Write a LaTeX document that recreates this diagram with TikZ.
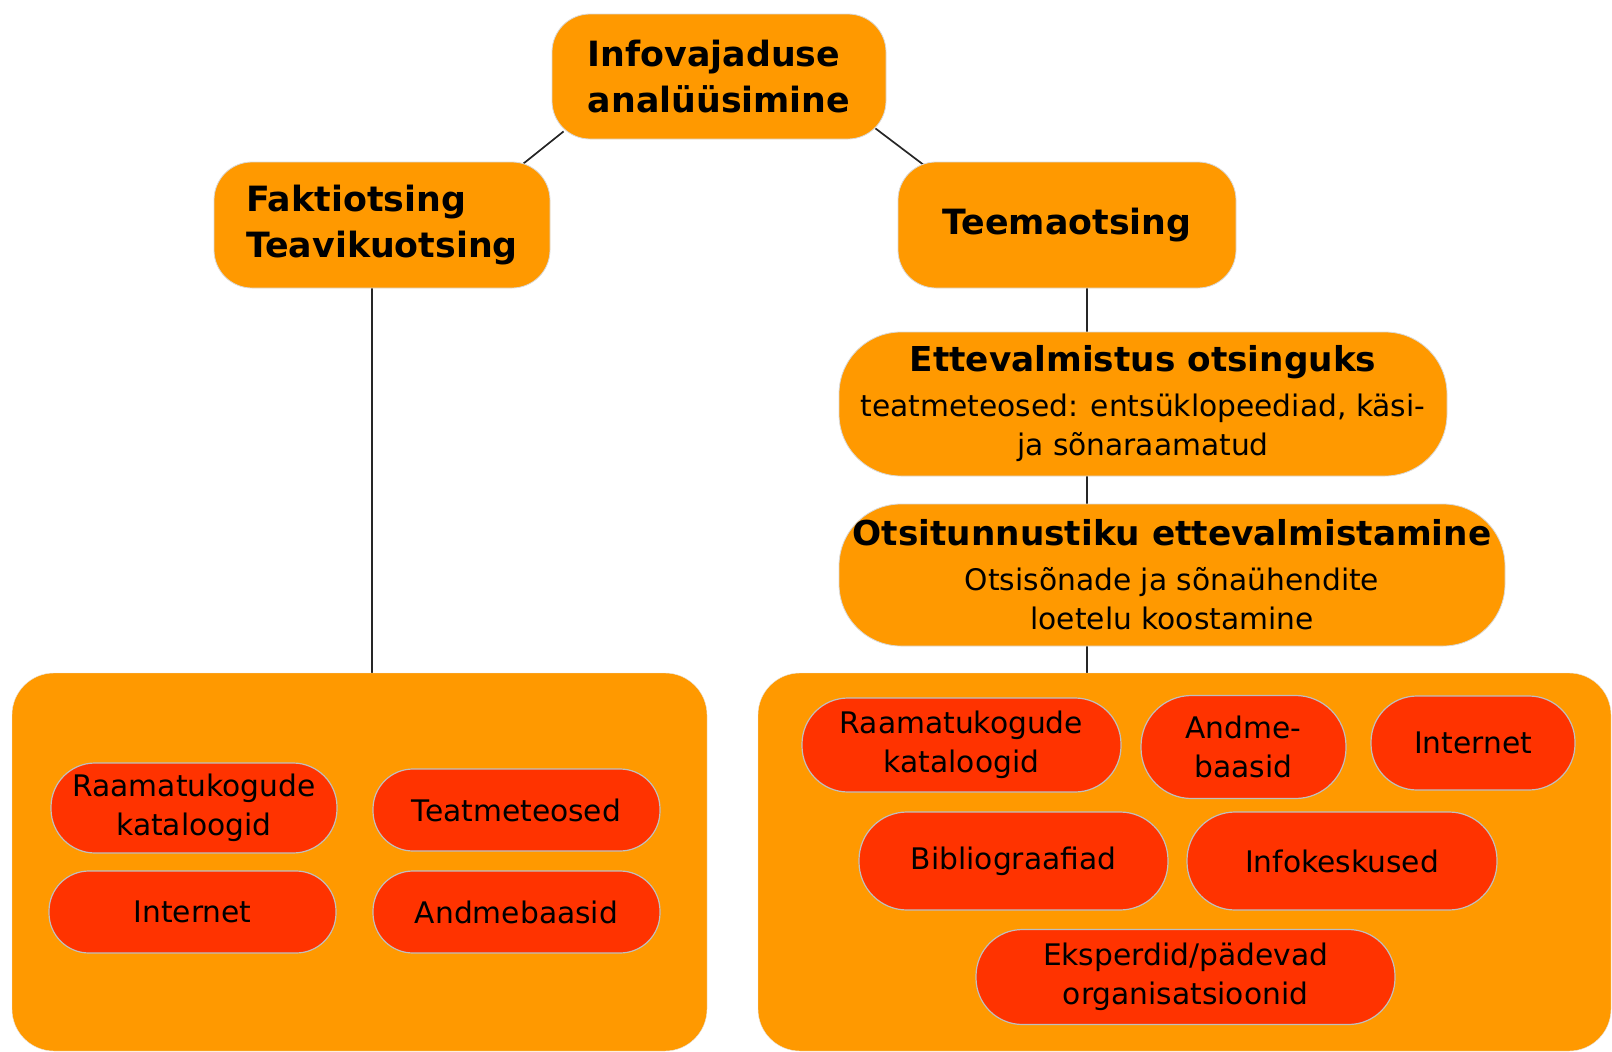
\documentclass[tikz,border=0pt]{standalone}
\usepackage{fontspec}
\setmainfont{DejaVu Sans}
\usepackage{tikz}
\usetikzlibrary{positioning, backgrounds}
\definecolor{boxorange}{HTML}{FF9900}
\definecolor{pillred}{HTML}{FF3300}

\begin{document}
\begin{tikzpicture}[x=1pt, y=-1pt,
  head node/.style={rectangle, rounded corners=38pt, fill=boxorange, draw=black!15,
    line width=0.8pt, inner sep=0pt, font=\bfseries\fontsize{34.8}{46}\selectfont},
  stage node/.style={head node, rounded corners=62pt, align=center, font=\fontsize{29.7}{39}\selectfont},
  group node/.style={rectangle, rounded corners=42pt, fill=boxorange, draw=black!10, inner sep=0pt},
  pill node/.style={rectangle, minimum height=#1, rounded corners=0.5*#1-1pt, fill=pillred,
    draw=black!25, line width=1.2pt, inner sep=0pt, align=center, font=\fontsize{29.7}{39}\selectfont},
  link/.style={line width=1.7pt, draw=black!85}]

\useasboundingbox (0,0) rectangle (1612,1052);

\node[head node, align=left, minimum width=334pt, minimum height=125pt] (top) at (719,76.5) {Infovajaduse\\analüüsimine};
\node[head node, align=left, minimum width=336pt, minimum height=126pt] (fakt) at (382,225) {Faktiotsing\\Teavikuotsing};
\node[head node, minimum width=338pt, minimum height=126pt] (teema) at (1067,225) {Teemaotsing};

\node[stage node, minimum width=608pt, minimum height=144pt] (ette) at (1143,404)
  {{\bfseries\fontsize{34.3}{45}\selectfont Ettevalmistus otsinguks}\\[6pt]
   teatmeteosed: entsüklopeediad, käsi-\\ ja sõnaraamatud};
\node[stage node, minimum width=666pt, minimum height=142pt] (ots) at (1172,575)
  {{\bfseries\fontsize{34.3}{45}\selectfont Otsitunnustiku ettevalmistamine}\\[6pt]
   Otsisõnade ja sõnaühendite\\ loetelu koostamine};

\node[group node, minimum width=695pt, minimum height=378pt] (leftbox) at (359.5,862) {};
\node[group node, minimum width=853pt, minimum height=378pt] (rightbox) at (1184.5,862) {};

% left group
\node[pill node=90pt, minimum width=286pt] (katl) at (194,808) {Raamatukogude\\kataloogid};
\node[pill node=82pt, minimum width=287pt] (teatl) at (516.5,810) {Teatmeteosed};
\node[pill node=82pt, minimum width=287pt] (netl) at (192.5,912) {Internet};
\node[pill node=82pt, minimum width=287pt] (andl) at (516.5,912) {Andmebaasid};

% right group
\node[pill node=94pt, minimum width=319pt] (katr) at (961.5,745) {Raamatukogude\\kataloogid};
\node[pill node=103pt, minimum width=205pt] (andr) at (1243.5,747) {Andme-\\baasid};
\node[pill node=94pt, minimum width=204pt] (netr) at (1473,743) {Internet};
\node[pill node=98pt, minimum width=309pt] (bibr) at (1013.5,861) {Bibliograafiad};
\node[pill node=98pt, minimum width=310pt] (infr) at (1342,861) {Infokeskused};
\node[pill node=95pt, minimum width=419pt] (eksr) at (1185.5,977) {Eksperdid/pädevad\\organisatsioonid};

\begin{pgfonlayer}{background}
\path[link]
([shift={(12,-8)}]top.south west) edge ([shift={(-27,2)}]fakt.north east)
([shift={(-11,-11)}]top.south east) edge ([shift={(27,4)}]teema.north west)
([xshift=-10pt]fakt.south) edge ([xshift=-10pt]fakt.south |- leftbox.north)
([xshift=20pt]teema.south) edge ([xshift=20pt]teema.south |- ette.north)
([xshift=20pt]teema.south |- ette.south) edge ([xshift=20pt]teema.south |- ots.north)
([xshift=20pt]teema.south |- ots.south) edge ([xshift=20pt]teema.south |- rightbox.north)
;
\end{pgfonlayer}

\end{tikzpicture}
\end{document}
